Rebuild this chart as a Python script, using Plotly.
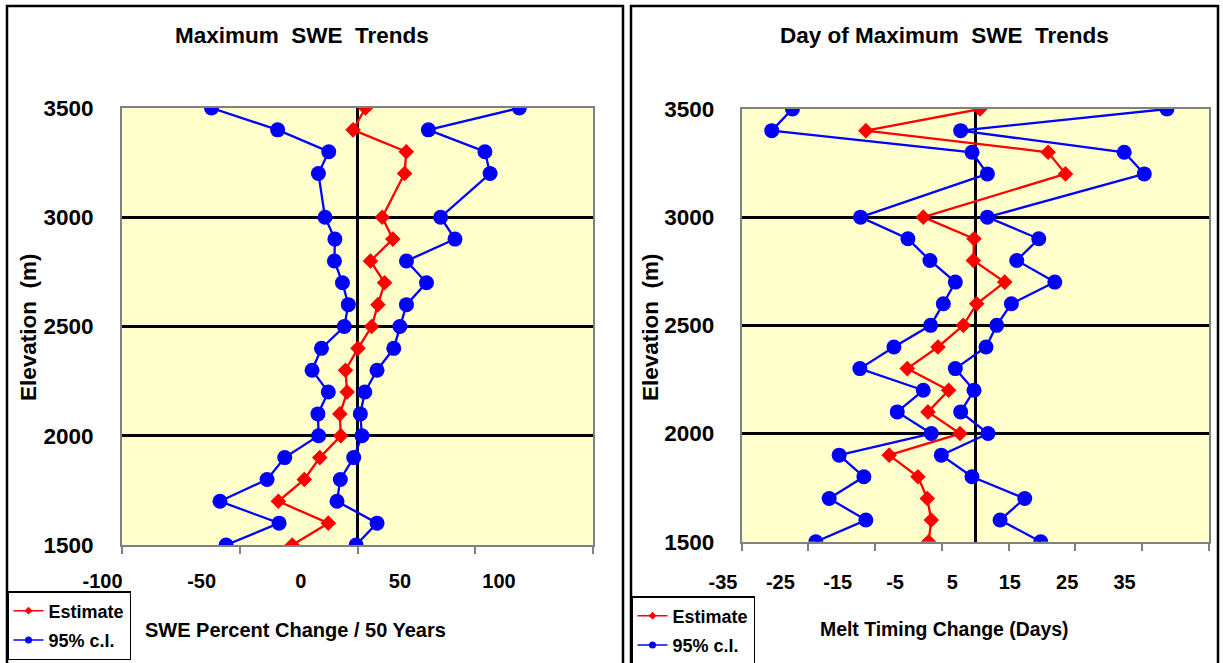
import plotly.graph_objects as go

# ---------------- data ----------------
elevation = [3500, 3400, 3300, 3200, 3000, 2900, 2800, 2700, 2600, 2500,
             2400, 2300, 2200, 2100, 2000, 1900, 1800, 1700, 1600, 1500]

swe_estimate = [3.4, -1.9, 20.7, 20.0, 10.5, 15.0, 5.5, 11.5, 8.7, 6.0,
                0.2, -5.1, -4.4, -7.5, -7.1, -16.0, -22.6, -33.6, -12.4, -27.7]
swe_lower = [-62.0, -33.9, -12.2, -16.6, -13.8, -9.6, -9.8, -6.4, -3.9, -5.6,
             -15.3, -19.3, -12.4, -16.8, -16.5, -30.9, -38.4, -58.4, -33.3, -55.8]
swe_upper = [68.7, 30.1, 54.1, 56.3, 35.3, 41.4, 20.8, 29.3, 20.8, 18.0,
             15.4, 8.3, 3.1, 1.2, 1.9, -1.6, -7.3, -8.7, 8.3, -0.6]

day_estimate = [0.7, -16.4, 10.9, 13.5, -7.8, -0.2, -0.3, 4.4, 0.2, -1.8,
                -5.6, -10.2, -4.0, -7.1, -2.3, -12.9, -8.6, -7.2, -6.6, -7.0]
day_lower = [-27.4, -30.5, -0.5, 1.8, -17.2, -10.1, -6.8, -3.0, -4.8, -6.7,
             -12.2, -17.3, -7.8, -11.7, -6.6, -20.4, -16.7, -21.9, -16.4, -23.9]
day_upper = [28.7, -2.2, 22.3, 25.3, 1.8, 9.5, 6.2, 11.9, 5.4, 3.2,
             1.6, -3.0, -0.2, -2.2, 1.9, -5.1, -0.5, 7.4, 3.7, 9.8]

swe_ticks = [-100, -50, 0, 50, 100]
swe_ticktext = ["-100", "-50", "0", "50", "100"]
day_ticks = [-35, -25, -15, -5, 5, 15, 25, 35]
day_ticktext = ["-35", "-25", "-15", "-5", "5", "15", "25", "35"]
elev_ticks = [1500, 2000, 2500, 3000, 3500]
elev_grid = [2000, 2500, 3000]

title_left = "Maximum\u00a0 SWE\u00a0 Trends"
title_right = "Day of Maximum\u00a0 SWE\u00a0 Trends"
xtitle_left = "SWE Percent Change / 50 Years"
xtitle_right = "Melt Timing Change (Days)"
ytitle = "Elevation\u00a0 (m)"
legend_names = ["Estimate", "95% c.l."]

# ---------------- styling ----------------
W, H = 1223, 663
RED = "#FF0000"
BLUE = "#0000FF"
BG = "#FFFFCC"
FONT = "Arial, 'Liberation Sans', sans-serif"


def px(x):
    return x / W


def py(y):
    return 1 - y / H


fig = go.Figure()


def add_panel(xa, ya, est, lo, hi, legend_id):
    common = dict(xaxis=xa, yaxis=ya, mode="lines+markers", showlegend=False)
    fig.add_trace(go.Scatter(x=lo, y=elevation, line=dict(color=BLUE, width=2.3),
                             marker=dict(symbol="circle", size=15, color=BLUE), **common))
    fig.add_trace(go.Scatter(x=hi, y=elevation, line=dict(color=BLUE, width=2.3),
                             marker=dict(symbol="circle", size=15, color=BLUE), **common))
    fig.add_trace(go.Scatter(x=est, y=elevation, line=dict(color=RED, width=2.3),
                             marker=dict(symbol="diamond", size=12, color=RED), **common))
    # legend entries
    fig.add_trace(go.Scatter(x=[None], y=[None], xaxis=xa, yaxis=ya, mode="lines+markers",
                             name=legend_names[0], legend=legend_id, legendgroup=legend_id + "e",
                             line=dict(color=RED, width=1.5),
                             marker=dict(symbol="diamond", size=6, color=RED)))
    fig.add_trace(go.Scatter(x=[None], y=[None], xaxis=xa, yaxis=ya, mode="lines+markers",
                             name=legend_names[1], legend=legend_id, legendgroup=legend_id + "c",
                             line=dict(color=BLUE, width=1.5),
                             marker=dict(symbol="circle", size=7, color=BLUE)))


add_panel("x", "y", swe_estimate, swe_lower, swe_upper, "legend")
add_panel("x2", "y2", day_estimate, day_lower, day_upper, "legend2")

# empty traces for label-only axes
fig.add_trace(go.Scatter(x=[], y=[], xaxis="x3", yaxis="y3", showlegend=False))
fig.add_trace(go.Scatter(x=[], y=[], xaxis="x4", yaxis="y4", showlegend=False))

tickfont = dict(family=FONT, size=22.5, color="black", weight="bold")
xtickfont = dict(family=FONT, size=20, color="black", weight="bold")

left_dom_x = [px(122), px(593)]
left_dom_y = [py(545), py(108)]
right_dom_x = [px(741.7), px(1209)]
right_dom_y = [py(541.7), py(109)]


def xaxis_main(dom, rng, ticks, anchor):
    return dict(domain=dom, range=rng, anchor=anchor, tickvals=ticks, showticklabels=False,
                ticks="outside", ticklen=7, tickwidth=2, tickcolor="#808080",
                showgrid=False, zeroline=True, zerolinecolor="black", zerolinewidth=2.5,
                showline=True, linecolor="#808080", linewidth=2, mirror=True,
                layer="below traces", fixedrange=True, automargin=False)


def yaxis_main(dom, anchor, standoff):
    return dict(domain=dom, range=[1500, 3500], anchor=anchor, tickvals=elev_ticks,
                tickfont=tickfont, ticks="", ticklabelstandoff=standoff,
                showgrid=False, zeroline=False,
                minor=dict(tickvals=elev_grid, showgrid=True, gridcolor="black",
                           gridwidth=2.5, ticks=""),
                showline=True, linecolor="#808080", linewidth=2, mirror=True,
                layer="below traces", fixedrange=True, automargin=False)


def xaxis_labels(dom, rng, ticks, text, anchor, standoff):
    return dict(domain=dom, range=rng, anchor=anchor, tickvals=ticks, ticktext=text,
                tickfont=xtickfont, ticks="", showgrid=False, zeroline=False, showline=False,
                ticklabelstandoff=standoff, fixedrange=True, automargin=False)


def yaxis_hidden(dom, anchor):
    return dict(domain=dom, range=[1500, 3500], anchor=anchor, visible=False,
                fixedrange=True, automargin=False)


legend_common = dict(font=dict(family=FONT, size=18, color="black", weight="bold"),
                     bgcolor="white", bordercolor="black", borderwidth=1.5,
                     xanchor="left", yanchor="top", traceorder="grouped",
                     tracegroupgap=3, itemwidth=30)

annot_font_big = dict(family=FONT, size=22.5, color="black", weight="bold")
annot_font = dict(family=FONT, size=20, color="black", weight="bold")
annot_font_r = dict(family=FONT, size=19.4, color="black", weight="bold")
annot_font_y = dict(family=FONT, size=22.5, color="black", weight="bold")

annotations = [
    dict(text=title_left, x=px(302), y=py(35), font=annot_font_big),
    dict(text=title_right, x=px(944), y=py(35), font=annot_font_big),
    dict(text=xtitle_left, x=px(295), y=py(630), font=annot_font),
    dict(text=xtitle_right, x=px(944), y=py(629), font=annot_font_r),
    dict(text=ytitle, x=px(28), y=py(327), font=annot_font_y, textangle=-90),
    dict(text=ytitle, x=px(650), y=py(327), font=annot_font_y, textangle=-90),
]
for a in annotations:
    a.update(xref="paper", yref="paper", showarrow=False, xanchor="center", yanchor="middle")

shapes = [
    dict(type="rect", xref="paper", yref="paper", x0=px(7), x1=px(623), y0=py(700), y1=py(6),
         line=dict(color="black", width=2.5), layer="below"),
    dict(type="rect", xref="paper", yref="paper", x0=px(631), x1=px(1218), y0=py(700), y1=py(6),
         line=dict(color="black", width=2.5), layer="below"),
    # plot-area backgrounds
    dict(type="rect", xref="x domain", yref="y domain", x0=0, x1=1, y0=0, y1=1,
         fillcolor=BG, line=dict(width=0), layer="below"),
    dict(type="rect", xref="x2 domain", yref="y2 domain", x0=0, x1=1, y0=0, y1=1,
         fillcolor=BG, line=dict(width=0), layer="below"),
]

fig.update_layout(
    width=W, height=H, margin=dict(l=0, r=0, t=0, b=0, pad=0, autoexpand=False),
    paper_bgcolor="white", plot_bgcolor="rgba(0,0,0,0)",
    xaxis=xaxis_main(left_dom_x, [-100, 100], swe_ticks, "y"),
    yaxis=yaxis_main(left_dom_y, "x", 22),
    xaxis2=xaxis_main(right_dom_x, [-35, 35], day_ticks, "y2"),
    yaxis2=yaxis_main(right_dom_y, "x2", 21),
    xaxis3=xaxis_labels([px(102.5), px(499)], [-100, 100], swe_ticks, swe_ticktext, "y3", 22),
    yaxis3=yaxis_hidden(left_dom_y, "x3"),
    xaxis4=xaxis_labels([px(723), px(1124.5)], [-35, 35], day_ticks, day_ticktext, "y4", 26),
    yaxis4=yaxis_hidden(right_dom_y, "x4"),
    legend=dict(x=px(7), y=py(591), **legend_common),
    legend2=dict(x=px(631), y=py(596), **legend_common),
    annotations=annotations,
    shapes=shapes,
    showlegend=True,
)

fig.write_html("out.html", config={"displayModeBar": False},
               post_script="document.body.style.margin='0';document.body.style.overflow='hidden';")
